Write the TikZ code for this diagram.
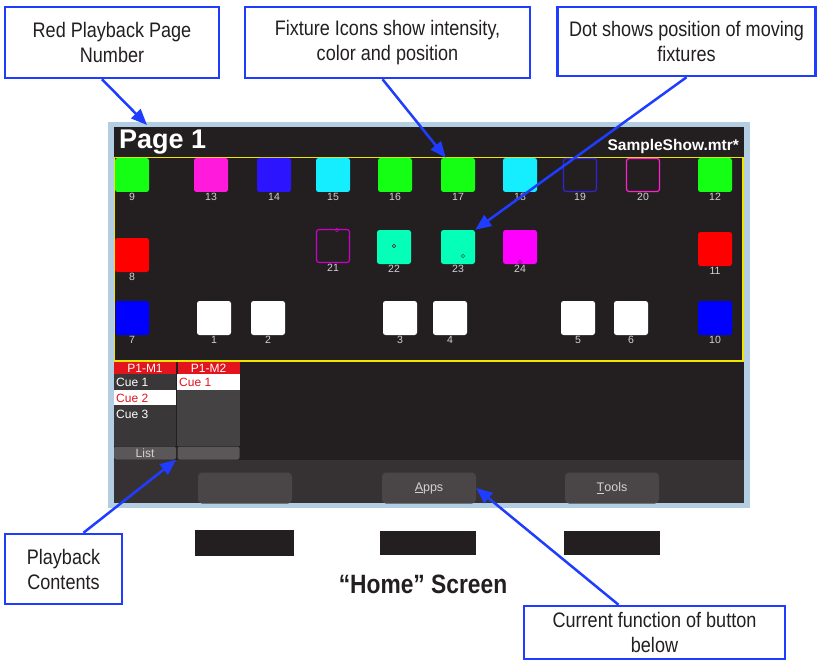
\documentclass[tikz,border=0pt]{standalone}
\usepackage{fontspec}
\setmainfont[FakeStretch=0.86]{Liberation Sans}
\newfontfamily\screenfont{Liberation Sans}
\usetikzlibrary{arrows.meta,positioning}

\definecolor{callblue}{HTML}{1F3DFF}
\definecolor{inktext}{HTML}{231F20}
\definecolor{scrdark}{HTML}{231F20}
\definecolor{scrbar}{HTML}{363233}
\definecolor{btngrey}{HTML}{4A4647}
\definecolor{frameblue}{HTML}{B3CDE3}
\definecolor{hdrred}{HTML}{E3141B}
\definecolor{colgreyA}{HTML}{3A3738}
\definecolor{colgreyB}{HTML}{454243}
\definecolor{bargrey}{HTML}{5A5758}
\definecolor{lbltext}{HTML}{D2D2D2}
\definecolor{fxgreen}{HTML}{14FF14}
\definecolor{fxmagenta}{HTML}{FF1ADC}
\definecolor{fxviolet}{HTML}{2D14FF}
\definecolor{fxcyan}{HTML}{14EEFF}
\definecolor{fxteal}{HTML}{05FFB8}
\definecolor{fxpink}{HTML}{FF00FF}
\definecolor{fxred}{HTML}{FF0000}
\definecolor{fxblue}{HTML}{0000FF}
\definecolor{outblue}{HTML}{3322DD}
\definecolor{outpink}{HTML}{FF22CC}
\definecolor{outmag}{HTML}{CC00CC}
\definecolor{frameyellow}{HTML}{F2E600}

\begin{document}
\begin{tikzpicture}[x=1pt,y=-1pt,
	fix/.style={rounded corners=2.5pt, minimum size=34pt, inner sep=0pt},
	fixout/.style={fix, draw=#1, line width=1.2pt, minimum size=33pt},
	fixlbl/.style={text=lbltext, font=\screenfont\fontsize{10.5}{10.5}\selectfont, inner sep=1pt},
	dot/.style={draw=#1, line width=0.6pt, circle, inner sep=0pt, minimum size=3.5pt},
	hdr/.style={fill=hdrred, text=white, minimum width=62pt, minimum height=12pt, inner sep=0pt, font=\screenfont\fontsize{12}{12}\selectfont},
	cue/.style={anchor=west, inner sep=0pt, font=\screenfont\fontsize{12}{12}\selectfont},
	listbar/.style={fill=bargrey, text=lbltext, rounded corners=2pt, minimum width=62pt, minimum height=13pt, inner sep=0pt, font=\screenfont\fontsize{12}{12}\selectfont},
	btn/.style={fill=btngrey, text=lbltext, rounded corners=4pt, minimum width=94pt, minimum height=31pt, inner sep=0pt, font=\screenfont\fontsize{12.5}{12.5}\selectfont},
	note/.style={draw=callblue, line width=2.5pt, fill=white, text=inktext, align=center, inner sep=0pt, font=\fontsize{21}{25}\selectfont},
	pointer/.style={callblue, line width=2.5pt, -{Triangle[length=16pt,width=13pt]}}]
	\useasboundingbox (0,0) rectangle (818,660);
	\fill[white] (0,0) rectangle (818,660);

	% screen
	\fill[frameblue] (108,122) rectangle (750,508);
	\fill[scrdark] (114,127) rectangle (744,503);
	\fill[scrbar] (114,460) rectangle (744,503);
	\draw[frameyellow, line width=1.8pt] (114.5,157.5) rectangle (743,361);

	\node[anchor=west, text=white, inner sep=0pt, font=\screenfont\bfseries\fontsize{27}{27}\selectfont] (title) at (119,142) {Page 1};
	\node[anchor=east, text=white, inner sep=0pt, font=\screenfont\bfseries\fontsize{15.5}{15.5}\selectfont] (showname) at (739,146) {SampleShow.mtr*};

	% fixtures, top row
	\node[fix, fill=fxgreen, label={[fixlbl]below:9}] (f9) at (132,175) {};
	\node[fix, fill=fxmagenta, label={[fixlbl]below:13}] (f13) at (211,175) {};
	\node[fix, fill=fxviolet, label={[fixlbl]below:14}] (f14) at (274,175) {};
	\node[fix, fill=fxcyan, label={[fixlbl]below:15}] (f15) at (333,175) {};
	\node[fix, fill=fxgreen, label={[fixlbl]below:16}] (f16) at (395,175) {};
	\node[fix, fill=fxgreen, label={[fixlbl]below:17}] (f17) at (458,175) {};
	\node[fix, fill=fxcyan, label={[fixlbl]below:18}] (f18) at (520,175) {};
	\node[fixout=outblue, label={[fixlbl]below:19}] (f19) at (580,175) {};
	\node[fixout=outpink, label={[fixlbl]below:20}] (f20) at (643,175) {};
	\node[fix, fill=fxgreen, label={[fixlbl]below:12}] (f12) at (715,175) {};

	% fixtures, middle row
	\node[fix, fill=fxred, label={[fixlbl]below:8}] (f8) at (132,255) {};
	\node[fixout=outmag, label={[fixlbl]below:21}] (f21) at (333,246) {};
	\node[fix, fill=fxteal, label={[fixlbl]below:22}] (f22) at (394,247) {};
	\node[fix, fill=fxteal, label={[fixlbl]below:23}] (f23) at (458,247) {};
	\node[fix, fill=fxpink, label={[fixlbl]below:24}] (f24) at (520,247) {};
	\node[fix, fill=fxred, label={[fixlbl]below:11}] (f11) at (715,249) {};
	\node[dot=outmag] (d21) at (337,230) {};
	\node[dot=scrdark] (d22) at (394,246) {};
	\node[dot=scrdark!70!fxteal] (d23) at (463,256) {};
	\node[dot=outmag!60!black] (d24) at (520,262) {};

	% fixtures, bottom row
	\node[fix, fill=fxblue, label={[fixlbl]below:7}] (f7) at (132,318) {};
	\node[fix, fill=white, label={[fixlbl]below:1}] (f1) at (214,318) {};
	\node[fix, fill=white, label={[fixlbl]below:2}] (f2) at (268,318) {};
	\node[fix, fill=white, label={[fixlbl]below:3}] (f3) at (400,318) {};
	\node[fix, fill=white, label={[fixlbl]below:4}] (f4) at (450,318) {};
	\node[fix, fill=white, label={[fixlbl]below:5}] (f5) at (578,318) {};
	\node[fix, fill=white, label={[fixlbl]below:6}] (f6) at (631,318) {};
	\node[fix, fill=fxblue, label={[fixlbl]below:10}] (f10) at (715,318) {};

	% playback lists
	\fill[colgreyA] (114,374) rectangle (176,446);
	\fill[colgreyB] (177,374) rectangle (240,446);
	\node[hdr] (m1) at (145,368) {P1-M1};
	\node[hdr] (m2) at (208.5,368) {P1-M2};
	\fill[white] (114,390) rectangle (176,405);
	\fill[white] (177,374) rectangle (240,390);
	\node[cue, text=white] (c11) at (116,382) {Cue 1};
	\node[cue, text=hdrred] (c12) at (116,398) {Cue 2};
	\node[cue, text=white] (c13) at (116,414) {Cue 3};
	\node[cue, text=hdrred] (c21) at (179,382) {Cue 1};
	\node[listbar] (list) at (145,453) {List};
	\node[listbar] (list2) at (208.5,453) {};

	% soft buttons
	\node[btn] (btnA) at (245,488) {};
	\node[btn] (appsbtn) at (429,488) {\underline{A}pps};
	\node[btn] (toolsbtn) at (612,488) {\underline{T}ools};

	\fill[scrdark] (195,530) rectangle (294,556);
	\fill[scrdark] (380,531) rectangle (476,555);
	\fill[scrdark] (564,531) rectangle (660,555);
	\node[text=inktext, font=\bfseries\fontsize{26.5}{26.5}\selectfont] (caption) at (423,584) {“Home” Screen};

	% callouts
	\node[note, minimum width=214pt, minimum height=71pt] (pagenote) at (112,42.5) {Red Playback Page\\Number};
	\node[note, minimum width=285pt, minimum height=71pt] (iconnote) at (387.5,42.5) {Fixture Icons show intensity,\\color and position};
	\node[note, minimum width=258pt, minimum height=69pt] (dotnote) at (686.5,41.5) {Dot shows position of moving\\fixtures};
	\node[note, minimum width=117pt, minimum height=70pt] (playnote) at (63.5,569) {Playback\\Contents};
	\node[note, minimum width=261pt, minimum height=53pt] (funcnote) at (654.5,632.5) {Current function of button\\below};

	\coordinate (pagetip) at (147,125);
	\draw[pointer] ([xshift=-10pt]pagenote.south) -- (pagetip);
	\draw[pointer] ([xshift=-5pt]iconnote.south) -- ([xshift=5pt]f17.north west);
	\draw[pointer] (dotnote.south) -- (f23.north east);
	\draw[pointer] ([xshift=20pt]playnote.north) -- (list.south east);
	\draw[pointer] ([xshift=-36pt]funcnote.north) -- (appsbtn.east);
\end{tikzpicture}
\end{document}
